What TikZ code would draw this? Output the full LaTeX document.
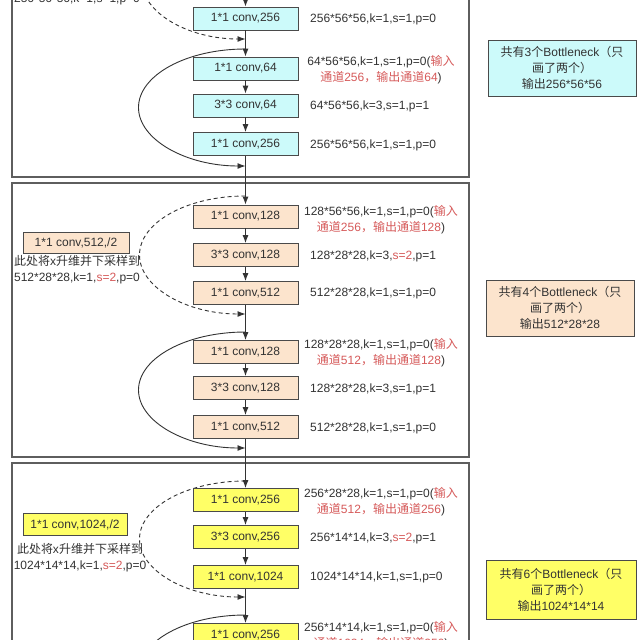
\documentclass[tikz,border=0pt]{standalone}
\usepackage{fontspec}
\setmainfont{Liberation Sans}
\newfontfamily\cjk{Noto Sans CJK SC}
\usetikzlibrary{arrows.meta}
\definecolor{cyf}{HTML}{CCFAFA}
\definecolor{orf}{HTML}{FCE4CD}
\definecolor{yef}{HTML}{FFFF66}
\definecolor{bd}{HTML}{4A4A4A}
\definecolor{txt}{HTML}{333333}
\definecolor{redtxt}{HTML}{D65A5A}
\definecolor{frm}{HTML}{5E5E5E}
\newcommand{\zh}[1]{{\cjk #1}}
\newcommand{\rd}[1]{\textcolor{redtxt}{#1}}
\begin{document}
\begin{tikzpicture}[x=1pt,y=-1pt,
  every node/.style={font=\fontsize{12}{16}\selectfont, text=txt},
  blk/.style={draw=bd, line width=0.8pt, minimum width=105pt, minimum height=23pt, inner sep=0pt},
  cyb/.style={blk, fill=cyf},
  orb/.style={blk, fill=orf},
  yeb/.style={blk, fill=yef},
  sidebox/.style={draw=bd, line width=0.8pt, minimum height=21pt, inner sep=0pt},
  infobox/.style={draw=bd, line width=0.8pt, minimum width=148pt, minimum height=56pt, inner sep=0pt, align=center},
  lab/.style={inner sep=0pt, anchor=west},
  lab2/.style={inner sep=0pt, align=center},
  frame/.style={draw=frm, line width=1.2pt},
  flow/.style={draw=txt, line width=0.9pt, -{Latex[length=8pt,width=6pt]}},
  skip/.style={draw=txt, line width=0.9pt, -{Latex[length=8pt,width=6pt]}},
  dskip/.style={draw=txt, line width=0.9pt, dash pattern=on 4pt off 3pt, -{Latex[length=8pt,width=6pt]}}
]
\useasboundingbox (0,0) rectangle (640,640);
\fill[white] (0,0) rectangle (640,640);
\clip (0,0) rectangle (640,640);

% frames
\draw[frame] (12,-20) rectangle (469,177);
\draw[frame] (12,183) rectangle (469,457);
\draw[frame] (12,463) rectangle (469,680);

% ---------- section 1 ----------
\coordinate (top) at (245.5,-20);
\node[inner sep=0pt] (t0) at (77,-1) {256*56*56,k=1,s=1,p=0};
\coordinate (d1s) at (245.5,-79);
\draw[dskip] (d1s) arc[start angle=90, end angle=270, x radius=104pt, y radius=59pt];
\coordinate (s1s) at (245.5,49);
\draw[skip] (s1s) arc[start angle=90, end angle=270, x radius=107pt, y radius=58.5pt];

\node[cyb] (b10) at (245.5,18.5) {1*1 conv,256};
\node[cyb] (b11) at (245.5,68.5) {1*1 conv,64};
\node[cyb] (b12) at (245.5,105.5) {3*3 conv,64};
\node[cyb] (b13) at (245.5,144) {1*1 conv,256};

\node[lab] (la10) at (310,19) {256*56*56,k=1,s=1,p=0};
\node[lab2] (la11) at (381,70) {64*56*56,k=1,s=1,p=0(\rd{\zh{输入}}\\\rd{\zh{通道}256\zh{，输出通道}64})};
\node[lab] (la12) at (310,106.5) {64*56*56,k=3,s=1,p=1};
\node[lab] (la13) at (310,145) {256*56*56,k=1,s=1,p=0};

\node[infobox, fill=cyf] (r1) at (562,68) {\zh{共有}3\zh{个}Bottleneck\zh{（只}\\\zh{画了两个）}\\\zh{输出}256*56*56};

% ---------- section 2 ----------
\coordinate (d2s) at (245.5,196);
\draw[dskip] (d2s) arc[start angle=90, end angle=270, x radius=106pt, y radius=59pt];
\coordinate (s2s) at (245.5,332);
\draw[skip] (s2s) arc[start angle=90, end angle=270, x radius=107pt, y radius=58pt];

\node[orb] (b20) at (245.5,216.5) {1*1 conv,128};
\node[orb] (b21) at (245.5,255) {3*3 conv,128};
\node[orb] (b22) at (245.5,293) {1*1 conv,512};
\node[orb] (b23) at (245.5,352) {1*1 conv,128};
\node[orb] (b24) at (245.5,388) {3*3 conv,128};
\node[orb] (b25) at (245.5,427) {1*1 conv,512};

\node[sidebox, fill=orf, minimum width=106pt] (l2) at (76,242.5) {1*1 conv,512,/2};
\node[lab2] (lt2) at (77,269.5) {\zh{此处将}x\zh{升维并下采样到}\\512*28*28,k=1,\rd{s=2},p=0};

\node[lab2] (la20) at (381,219.5) {128*56*56,k=1,s=1,p=0(\rd{\zh{输入}}\\\rd{\zh{通道}256\zh{，输出通道}128})};
\node[lab] (la21) at (310,256) {128*28*28,k=3,\rd{s=2},p=1};
\node[lab] (la22) at (310,293) {512*28*28,k=1,s=1,p=0};
\node[lab2] (la23) at (381,352.5) {128*28*28,k=1,s=1,p=0(\rd{\zh{输入}}\\\rd{\zh{通道}512\zh{，输出通道}128})};
\node[lab] (la24) at (310,389.5) {128*28*28,k=3,s=1,p=1};
\node[lab] (la25) at (310,428) {512*28*28,k=1,s=1,p=0};

\node[infobox, fill=orf] (r2) at (560,308) {\zh{共有}4\zh{个}Bottleneck\zh{（只}\\\zh{画了两个）}\\\zh{输出}512*28*28};

% ---------- section 3 ----------
\coordinate (d3s) at (245.5,481);
\draw[dskip] (d3s) arc[start angle=90, end angle=270, x radius=106pt, y radius=58pt];
\coordinate (s3s) at (245.5,615);
\draw[skip] (s3s) arc[start angle=90, end angle=270, x radius=107pt, y radius=58pt];

\node[yeb] (b30) at (245.5,500) {1*1 conv,256};
\node[yeb] (b31) at (245.5,537) {3*3 conv,256};
\node[yeb] (b32) at (245.5,577) {1*1 conv,1024};
\node[yeb] (b33) at (245.5,635) {1*1 conv,256};

\node[sidebox, fill=yef, minimum width=104pt, minimum height=22pt] (l3) at (75,524.5) {1*1 conv,1024,/2};
\node[lab2] (lt3) at (80,558) {\zh{此处将}x\zh{升维并下采样到}\\1024*14*14,k=1,\rd{s=2},p=0};

\node[lab2] (la30) at (381,502) {256*28*28,k=1,s=1,p=0(\rd{\zh{输入}}\\\rd{\zh{通道}512\zh{，输出通道}256})};
\node[lab] (la31) at (310,538) {256*14*14,k=3,\rd{s=2},p=1};
\node[lab] (la32) at (310,577) {1024*14*14,k=1,s=1,p=0};
\node[lab2] (la33) at (381,636) {256*14*14,k=1,s=1,p=0(\rd{\zh{输入}}\\\rd{\zh{通道}1024\zh{，输出通道}256})};

\node[infobox, fill=yef, minimum width=150pt, minimum height=59pt] (r3) at (561,590) {\zh{共有}6\zh{个}Bottleneck\zh{（只}\\\zh{画了两个）}\\\zh{输出}1024*14*14};

% ---------- main flow ----------
\draw[flow] (top) -- (b10);
\draw[flow] (b10) -- (b11);
\draw[flow] (b11) -- (b12);
\draw[flow] (b12) -- (b13);
\draw[flow] (b13) -- (b20);
\draw[flow] (b20) -- (b21);
\draw[flow] (b21) -- (b22);
\draw[flow] (b22) -- (b23);
\draw[flow] (b23) -- (b24);
\draw[flow] (b24) -- (b25);
\draw[flow] (b25) -- (b30);
\draw[flow] (b30) -- (b31);
\draw[flow] (b31) -- (b32);
\draw[flow] (b32) -- (b33);
\end{tikzpicture}
\end{document}
